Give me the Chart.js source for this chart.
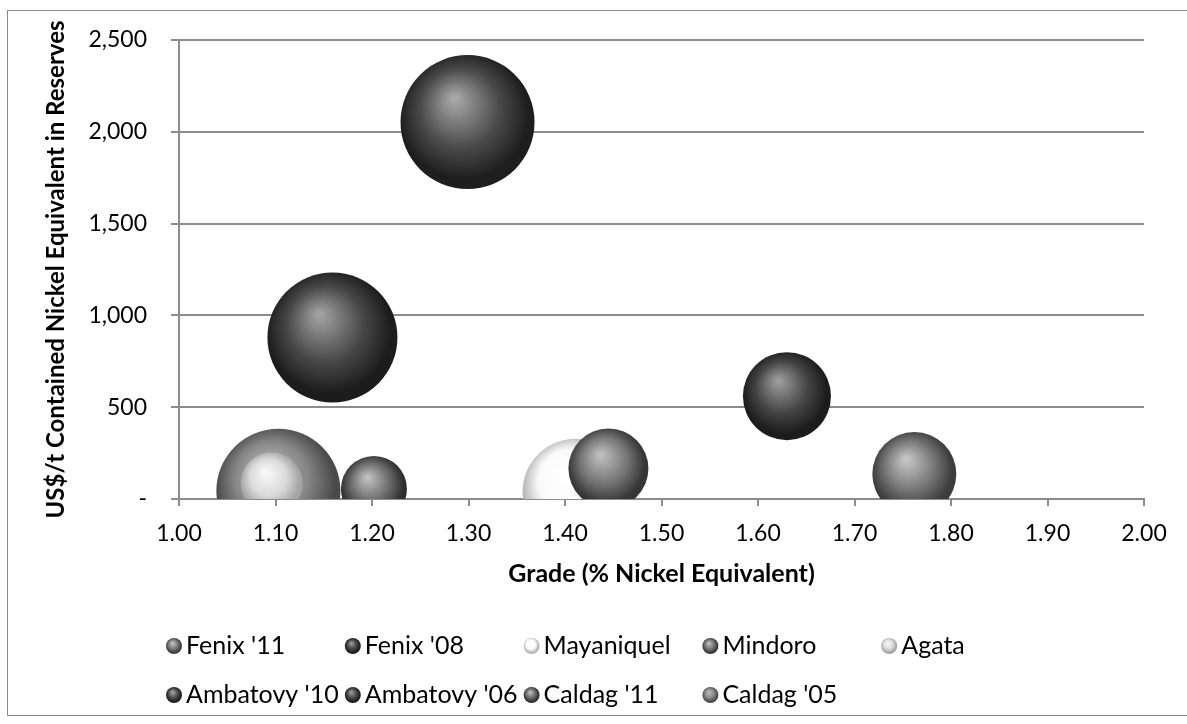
<!DOCTYPE html>
<html lang="en">
<head>
<meta charset="UTF-8">
<title>Capital intensity vs grade</title>
<script src="https://cdn.jsdelivr.net/npm/chart.js@4.4.1/dist/chart.umd.min.js"></script>
<style>
  body { margin: 0; background: #fff; }
  .wrap { position: relative; width: 1187px; height: 724px; overflow: hidden; }
  .frame { position: absolute; left: 7px; top: 10px; width: 1200px; height: 706px; border: 1px solid #8a8a8a; box-sizing: border-box; }
  canvas { position: absolute; left: 0; top: 0; }
</style>
</head>
<body>
<div class="wrap">
  <div class="frame"></div>
  <canvas id="bubbleChart" width="1187" height="724"></canvas>
</div>

<script>
// series, in legend order
const projects = ["Fenix '11", "Fenix '08", "Mayaniquel", "Mindoro", "Agata",
                  "Ambatovy '10", "Ambatovy '06", "Caldag '11", "Caldag '05"];
const grade = [1.762, 1.630, 1.411, 1.445, 1.096, 1.299, 1.159, 1.202, 1.103];      // % Ni eq
const costPerTonne = [136, 560, 40, 166, 85, 2053, 880, 55, 45];                   // US$/t
const bubbleSize = [42, 44, 53, 40, 31, 67, 65, 33, 62];

const xTickLabels = ['1.00', '1.10', '1.20', '1.30', '1.40', '1.50', '1.60', '1.70', '1.80', '1.90', '2.00'];
const yTickLabels = ['-', '500', '1,000', '1,500', '2,000', '2,500'];

// sphere shading per series: highlight, body, rim
const shades = [
    ['#c6c6c6', '#767676', '#3c3c3c'],
    ['#9c9c9c', '#444444', '#1c1c1c'],
    ['#ffffff', '#fafafa', '#b4b4b4'],
    ['#bebebe', '#747474', '#363636'],
    ['#f8f8f8', '#dadada', '#a4a4a4'],
    ['#a6a6a6', '#4a4a4a', '#1e1e1e'],
    ['#a0a0a0', '#474747', '#1c1c1c'],
    ['#c0c0c0', '#6a6a6a', '#2e2e2e'],
    ['#bcbcbc', '#868686', '#4a4a4a']
];

const FONT = 'Lato';
const GRID = '#8c8c8c';

// bubbles are clipped to the plot like Excel does, so no extra layout room for them
class ClippedBubble extends Chart.BubbleController {
    getMaxOverflow() { return 0; }
}
ClippedBubble.id = 'clippedBubble';
ClippedBubble.defaults = Chart.BubbleController.defaults;
ClippedBubble.overrides = Chart.BubbleController.overrides;
Chart.register(ClippedBubble);

function ballGradient(c, x, y, r, s) {
    const g = c.createRadialGradient(x - r * 0.2, y - r * 0.35, r * 0.04, x - r * 0.04, y - r * 0.08, r * 1.04);
    g.addColorStop(0, s[0]);
    g.addColorStop(0.55, s[1]);
    g.addColorStop(0.92, s[2]);
    g.addColorStop(1, s[2]);
    return g;
}

// shaded fill for each bubble, placed with the chart's own scales
function sphereFill(i) {
    return (ctx) => {
        const chart = ctx.chart;
        if (ctx.type !== 'data' || !chart.chartArea) return shades[i][1];
        const d = ctx.raw;
        const x = chart.scales.x.getPixelForValue(d.x);
        const y = chart.scales.y.getPixelForValue(d.y);
        return ballGradient(chart.ctx, x, y, d.r, shades[i]);
    };
}

// Excel-style legend: fixed columns, two rows
const legendGrid = {
    id: 'legendGrid',
    afterDraw(chart) {
        const c = chart.ctx;
        c.save();
        c.font = '25px ' + FONT;
        c.textBaseline = 'alphabetic';
        projects.forEach((name, i) => {
            const row = i < 5 ? 0 : 1;
            const col = row ? i - 5 : i;
            const x = 166 + col * 178.8;
            const y = row ? 654 : 654;
            const yy = row ? 703 : y;
            c.fillStyle = ballGradient(c, x + 8, yy - 8, 8, shades[i]);
            c.beginPath();
            c.arc(x + 8, yy - 8, 8, 0, Math.PI * 2);
            c.fill();
            c.fillStyle = '#000';
            c.fillText(name, x + 20, yy);
        });
        c.restore();
    }
};

const datasets = projects.map((name, i) => ({
    type: 'clippedBubble',
    label: name,
    data: [{ x: grade[i], y: costPerTonne[i], r: bubbleSize[i] }],
    backgroundColor: sphereFill(i),
    borderWidth: 0,
    clip: 0,
    order: bubbleSize[i]   // larger bubbles sit behind smaller ones
}));

new Chart(document.getElementById('bubbleChart'), {
    type: 'clippedBubble',
    data: { datasets },
    options: {
        responsive: false,
        animation: false,
        layout: { padding: { top: 40, right: 43, left: 0, bottom: 0 } },
        plugins: {
            legend: { display: false },
            tooltip: { enabled: false }
        },
        scales: {
            x: {
                type: 'linear',
                position: 'bottom',
                min: 1,
                max: 2,
                ticks: {
                    stepSize: 0.1,
                    autoSkip: false,
                    maxRotation: 0,
                    padding: 14,
                    color: '#000',
                    font: { family: FONT, size: 23 },
                    callback: (v, i) => xTickLabels[i]
                },
                grid: { drawOnChartArea: false, tickLength: 7, color: GRID, lineWidth: 2 },
                border: { color: GRID, width: 2 },
                title: {
                    display: true,
                    text: 'Grade (% Nickel Equivalent)',
                    color: '#000',
                    font: { family: FONT, size: 25, weight: 'bold' },
                    padding: { top: 0, bottom: 135 }
                },
                afterFit: (s) => { s.height = 225; }
            },
            y: {
                type: 'linear',
                position: 'left',
                min: 0,
                max: 2500,
                ticks: {
                    stepSize: 500,
                    padding: 24,
                    color: '#000',
                    font: { family: FONT, size: 23 },
                    callback: (v, i) => yTickLabels[i]
                },
                grid: { tickLength: 8, color: GRID, lineWidth: 2 },
                border: { color: GRID, width: 2 },
                title: {
                    display: true,
                    text: 'US$/t Contained Nickel Equivalent in Reserves',
                    color: '#000',
                    font: { family: FONT, size: 24, weight: 'bold' },
                    padding: { top: 42, bottom: 0 }
                },
                afterFit: (s) => { s.width = 179; }
            }
        }
    },
    plugins: [legendGrid]
});
</script>
</body>
</html>
